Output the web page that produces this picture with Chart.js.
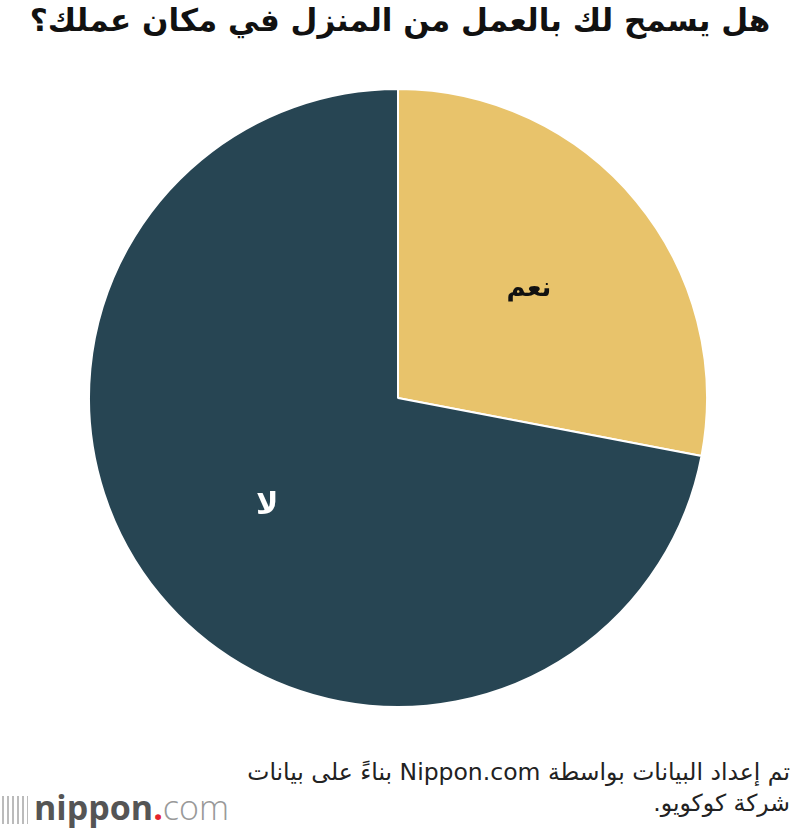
<!DOCTYPE html>
<html lang="ar">
<head>
<meta charset="utf-8">
<script src="https://cdn.jsdelivr.net/npm/chart.js@4"></script>
<style>
  body { margin: 0; width: 800px; height: 828px; background: #fff; position: relative; overflow: hidden; font-family: "DejaVu Sans", sans-serif; }
  #title { position: absolute; top: 2px; left: 0; width: 800px; text-align: center; font-size: 31px; font-weight: bold; color: #111; direction: rtl; }
  #chartBox { position: absolute; left: 88px; top: 88px; width: 620px; height: 620px; }
  #source { position: absolute; right: 10px; top: 757px; text-align: right; direction: rtl; font-size: 23.5px; line-height: 31px; color: #222; font-family: "DejaVu Sans", sans-serif; }
  #logo { position: absolute; left: 2px; top: 784px; font-size: 34px; color: #555; font-family: "Open Sans", sans-serif; white-space: nowrap; }
  #logo .bars { display: inline-block; width: 26px; height: 28px; vertical-align: -4px; margin-right: 6px;
    background: repeating-linear-gradient(90deg, #bbb 0 2px, transparent 2px 5px); }
  #logo b { font-weight: bold; color: #555; }
  #logo .dot { color: #e4232e; font-weight: bold; }
  #logo .com { color: #999; font-weight: 300; }
</style>
</head>
<body>
<div id="title">هل يسمح لك بالعمل من المنزل في مكان عملك؟</div>
<div id="chartBox"><canvas id="pie"></canvas></div>
<div id="source">تم إعداد البيانات بواسطة Nippon.com بناءً على بيانات<br>شركة كوكويو.</div>
<div id="logo"><span class="bars"></span><b>nippon</b><span class="dot">.</span><span class="com">com</span></div>
<script>
// الفئات والقيم
const labels = ["نعم", "لا"];
const values = [28, 72];
const colors = ["#E8C36B", "#274553"];
const labelColors = ["#111111", "#ffffff"];
const labelSizes = [26, 30];

// رسم التسميات داخل الشرائح
const sliceLabels = {
  id: "sliceLabels",
  afterDatasetsDraw(chart) {
    const ctx = chart.ctx;
    const meta = chart.getDatasetMeta(0);
    meta.data.forEach((arc, i) => {
      const mid = (arc.startAngle + arc.endAngle) / 2;
      const r = arc.outerRadius * 0.55;
      const x = arc.x + Math.cos(mid) * r;
      const y = arc.y + Math.sin(mid) * r;
      ctx.save();
      ctx.font = "bold " + labelSizes[i] + "px 'DejaVu Sans'";
      ctx.fillStyle = labelColors[i];
      ctx.textAlign = "center";
      ctx.textBaseline = "middle";
      ctx.fillText(labels[i], x, y);
      ctx.restore();
    });
  }
};

new Chart(document.getElementById("pie").getContext("2d"), {
  type: "pie",
  data: {
    labels: labels,
    datasets: [{
      data: values,
      backgroundColor: colors,
      borderColor: "#ffffff",
      borderWidth: 2
    }]
  },
  options: {
    responsive: true,
    maintainAspectRatio: false,
    animation: false,
    plugins: {
      legend: { display: false },
      tooltip: { enabled: false }
    }
  },
  plugins: [sliceLabels]
});
</script>
</body>
</html>
